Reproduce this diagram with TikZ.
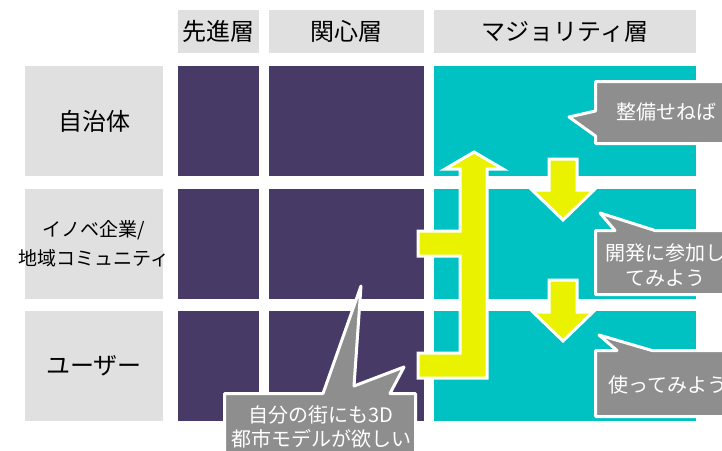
\documentclass[tikz,border=0pt]{standalone}
\usepackage{fontspec}
\setmainfont{Noto Sans CJK JP}
\usepackage{tikz}
\definecolor{purp}{RGB}{72,58,102}
\definecolor{tealc}{RGB}{0,194,194}
\definecolor{yel}{RGB}{234,242,0}
\definecolor{lgray}{RGB}{224,224,224}
\definecolor{dgray}{RGB}{142,142,142}

\begin{document}
\begin{tikzpicture}[x=1pt,y=-1pt,
	box/.style={inner sep=0pt,anchor=north west},
	lbl/.style={box,fill=lgray,font=\fontsize{24}{28}\selectfont},
	say/.style={text=white,align=center,font=\fontsize{20}{24.5}\selectfont},
	yarrow/.style={fill=yel,draw=white,line width=3pt,line join=miter},
	bubble/.style={fill=dgray,draw=white,line width=3pt,line join=round}]
	\useasboundingbox (0,0) rectangle (722,450);
	\clip (0,0) rectangle (722,450);
	\node[lbl,minimum width=81pt,minimum height=43pt] (h1) at (178,10) {先進層};
	\node[lbl,minimum width=155pt,minimum height=43pt] (h2) at (269,10) {関心層};
	\node[lbl,minimum width=262pt,minimum height=43pt] (h3) at (434,10) {マジョリティ層};
	\foreach \r/\y in {1/66,2/189,3/311}
	{
		\node[lbl,minimum width=138pt,minimum height=110pt] (r\r) at (25,\y) {};
		\node[box,fill=purp,minimum width=81pt,minimum height=110pt] (a\r) at (178,\y) {};
		\node[box,fill=purp,minimum width=155pt,minimum height=110pt] (b\r) at (269,\y) {};
		\node[box,fill=tealc,minimum width=262pt,minimum height=110pt] (m\r) at (434,\y) {};
	}
	\node[font=\fontsize{24}{28}\selectfont] (t1) at (r1.center) {自治体};
	\node[font=\fontsize{19}{29}\selectfont,align=center] (t2) at (r2.center) {イノベ企業/\\地域コミュニティ};
	\node[font=\fontsize{24}{28}\selectfont] (t3) at (r3.center) {ユーザー};
	\filldraw[yarrow] (418,231) -- (460,231) -- (460,169) -- (445,169) -- (474,152) -- (503,169) -- (487,169)
		-- (487,378) -- (418,378) -- (418,353) -- (460,353) -- (460,256) -- (418,256) -- cycle;
	\filldraw[yarrow] (549,159) -- (577,159) -- (577,190) -- (594,190) -- (563,220) -- (532,190) -- (549,190) -- cycle;
	\filldraw[yarrow] (549,280) -- (577,280) -- (577,312) -- (593,312) -- (563,341) -- (533,312) -- (549,312) -- cycle;
	\filldraw[bubble] (595.5,81.5) -- (740,81.5) -- (740,143.5) -- (595.5,143.5) -- (595.5,136) -- (569,117) -- (595.5,111) -- cycle;
	\filldraw[bubble] (595.5,230.5) -- (615,230.5) -- (600,213) -- (655,230.5) -- (740,230.5) -- (740,294.5) -- (595.5,294.5) -- cycle;
	\filldraw[bubble] (595.5,350.5) -- (617,350.5) -- (599,335) -- (652,350.5) -- (740,350.5) -- (740,416.5) -- (595.5,416.5) -- cycle;
	\filldraw[bubble] (224.5,393.5) -- (323,393.5) -- (361,286) -- (354,386) -- (404,367) -- (390,393.5)
		-- (415.5,393.5) -- (415.5,470) -- (224.5,470) -- cycle;
	\node[say] (s1) at (666,112) {整備せねば};
	\node[say] (s2) at (665,265) {開発に参加し\\てみよう};
	\node[say] (s3) at (668,385) {使ってみよう};
	\node[say] (s4) at (321,427) {自分の街にも3D\\都市モデルが欲しい};
\end{tikzpicture}
\end{document}
